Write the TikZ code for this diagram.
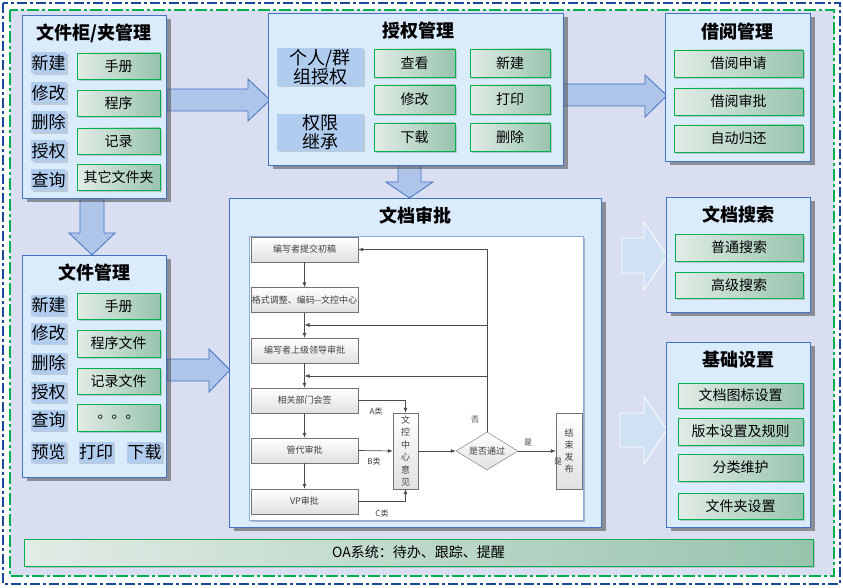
\documentclass[tikz,border=0pt]{standalone}
\usepackage{fontspec}
\setmainfont{Noto Sans CJK SC}
\usetikzlibrary{shapes.geometric,arrows.meta,shadows}
\definecolor{bgfill}{RGB}{217,222,240}
\definecolor{frameblue}{RGB}{28,72,156}
\definecolor{framegreen}{RGB}{0,176,80}
\definecolor{panelfill}{RGB}{218,235,252}
\definecolor{panelline}{RGB}{68,114,196}
\definecolor{tagfill}{RGB}{176,204,238}
\definecolor{btnleft}{RGB}{226,236,230}
\definecolor{btnright}{RGB}{152,196,174}
\definecolor{arrowfill}{RGB}{174,197,233}
\definecolor{softarrow}{RGB}{208,225,243}
\tikzset{
  panel/.style={draw=panelline, line width=0.8pt, fill=panelfill, inner sep=0pt,
    drop shadow={shadow xshift=5pt, shadow yshift=-4pt, opacity=0.55, fill=black!70}},
  ptitle/.style={font=\bfseries\fontsize{18}{20}\selectfont},
  tag/.style={fill=tagfill, inner sep=0pt, minimum width=35pt, minimum height=21pt,
    font=\fontsize{17}{19}\selectfont,
    drop shadow={shadow xshift=1.5pt, shadow yshift=-1.5pt, opacity=0.3}},
  widetag/.style={tag, minimum width=86pt, align=center, font=\fontsize{18}{19}\selectfont},
  btn/.style={draw=framegreen, line width=0.8pt, left color=btnleft, right color=btnright,
    inner sep=0pt, minimum height=26pt, font=\fontsize{14}{16}\selectfont,
    drop shadow={shadow xshift=2pt, shadow yshift=-2pt, opacity=0.35}},
  bigarrow/.style={draw=panelline, line width=0.8pt, fill=arrowfill},
  lightarrow/.style={draw=white, line width=0.8pt, fill=softarrow},
  flow/.style={draw=black!55, top color=white, bottom color=black!12, inner sep=0pt,
    minimum width=107pt, minimum height=25pt, text=black!75, font=\fontsize{9}{11}\selectfont},
  vflow/.style={flow, minimum width=25pt, minimum height=76pt, align=center,
    font=\fontsize{9}{12.5}\selectfont},
  fline/.style={draw=black!70, line width=0.7pt, -{Latex[length=5pt,width=4pt]}},
  flabel/.style={text=black!75, font=\fontsize{8}{9}\selectfont}
}
\begin{document}
\begin{tikzpicture}[x=1pt,y=-1pt]
\useasboundingbox (0,0) rectangle (843,588);
\fill[white] (0,0) rectangle (843,588);
\fill[bgfill] (10,10) rectangle (834,576);
\draw[frameblue, line width=2.6pt, dash pattern=on 10pt off 3pt on 3pt off 3pt] (3,3) rectangle (840,584);
\draw[framegreen, line width=2.2pt, dash pattern=on 12pt off 3pt on 3pt off 3pt] (10,10) rectangle (834,576);

\draw[bigarrow] (80,198) -- (104,198) -- (104,233) -- (115,233) -- (92,255) -- (69,233) -- (80,233) -- cycle;
\draw[bigarrow] (167,89) -- (248,89) -- (248,79) -- (270,100) -- (248,121) -- (248,111) -- (167,111) -- cycle;
\draw[bigarrow] (563,84) -- (645,84) -- (645,75) -- (667,95.5) -- (645,117) -- (645,106) -- (563,106) -- cycle;
\draw[bigarrow] (398,165) -- (421,165) -- (421,182) -- (433,182) -- (409.5,198) -- (386,182) -- (398,182) -- cycle;
\draw[bigarrow] (167,359) -- (209,359) -- (209,349) -- (230,370) -- (209,392) -- (209,381) -- (167,381) -- cycle;
\draw[lightarrow] (622,238) -- (644,238) -- (644,222) -- (667,256) -- (644,290) -- (644,273) -- (622,273) -- cycle;
\draw[lightarrow] (620,413) -- (644,413) -- (644,397) -- (667,430) -- (644,464) -- (644,447) -- (620,447) -- cycle;

\node[panel, minimum width=144pt, minimum height=183pt] (cabinet) at (94,106.5) {};
\node[ptitle] (cabinetTitle) at (94,33) {文件柜/夹管理};
\node[tag] (cabNew) at (48.5,63) {新建};
\node[tag] (cabEdit) at (48.5,93) {修改};
\node[tag] (cabDel) at (48.5,122) {删除};
\node[tag] (cabAuth) at (48.5,151) {授权};
\node[tag] (cabFind) at (48.5,180) {查询};
\node[btn, minimum width=83pt] (cabManual) at (118.5,66) {手册};
\node[btn, minimum width=83pt] (cabProc) at (118.5,103.5) {程序};
\node[btn, minimum width=83pt] (cabRec) at (118.5,141) {记录};
\node[btn, minimum width=83pt] (cabOther) at (118.5,177.5) {其它文件夹};

\node[panel, minimum width=295pt, minimum height=152pt] (grant) at (415.5,89) {};
\node[ptitle] (grantTitle) at (418,31) {授权管理};
\node[widetag, minimum height=38pt] (grantGroup) at (320,67) {个人/群\\组授权};
\node[widetag, minimum height=37pt] (grantInherit) at (320,132.5) {权限\\继承};
\node[btn, minimum width=81pt, minimum height=28pt] (grantView) at (414.5,63) {查看};
\node[btn, minimum width=81pt, minimum height=29pt] (grantEdit) at (414.5,99.5) {修改};
\node[btn, minimum width=81pt, minimum height=28pt] (grantLoad) at (414.5,137) {下载};
\node[btn, minimum width=80pt, minimum height=28pt] (grantNew) at (510,63) {新建};
\node[btn, minimum width=80pt, minimum height=29pt] (grantPrint) at (510,99.5) {打印};
\node[btn, minimum width=80pt, minimum height=28pt] (grantDel) at (510,137) {删除};

\node[panel, minimum width=145pt, minimum height=148pt] (borrow) at (737.5,87) {};
\node[ptitle] (borrowTitle) at (737.5,32) {借阅管理};
\node[btn, minimum width=129pt, minimum height=27pt] (borrowAsk) at (738.5,63.5) {借阅申请};
\node[btn, minimum width=129pt, minimum height=27pt] (borrowCheck) at (738.5,101.5) {借阅审批};
\node[btn, minimum width=129pt, minimum height=27pt] (borrowBack) at (738.5,138.5) {自动归还};

\node[panel, minimum width=144pt, minimum height=222pt] (files) at (94,366) {};
\node[ptitle] (filesTitle) at (94,273) {文件管理};
\node[tag] (fileNew) at (48.5,305) {新建};
\node[tag] (fileEdit) at (48.5,333) {修改};
\node[tag] (fileDel) at (48.5,363) {删除};
\node[tag] (fileAuth) at (48.5,392) {授权};
\node[tag] (fileFind) at (48.5,420) {查询};
\node[tag] (fileView) at (48.5,452) {预览};
\node[tag] (filePrint) at (96,452) {打印};
\node[tag] (fileLoad) at (144.5,452) {下载};
\node[btn, minimum width=83pt] (fileManual) at (118.5,306) {手册};
\node[btn, minimum width=83pt, minimum height=27pt] (fileProc) at (118.5,343.5) {程序文件};
\node[btn, minimum width=83pt] (fileRec) at (118.5,381) {记录文件};
\node[btn, minimum width=83pt, minimum height=27pt] (fileMore) at (118.5,417.5) {。。。};

\node[panel, minimum width=372pt, minimum height=329pt] (review) at (415,362.5) {};
\node[ptitle] (reviewTitle) at (415,216) {文档审批};
\node[draw=panelline!60, fill=white, inner sep=0pt, minimum width=334pt, minimum height=284pt,
  drop shadow={shadow xshift=2pt, shadow yshift=-2pt, opacity=0.5}] (sheet) at (416,378) {};
\node[flow] (draft) at (304.5,249.5) {编写者提交初稿};
\node[flow] (format) at (304.5,300) {格式调整、编码-{}-文控中心};
\node[flow] (leader) at (304.5,350.5) {编写者上级领导审批};
\node[flow] (dept) at (304.5,400.5) {相关部门会签};
\node[flow] (mgr) at (304.5,450.5) {管代审批};
\node[flow] (vp) at (304.5,501.5) {VP审批};
\node[vflow] (ctrl) at (405.5,451) {文\\控\\中\\心\\意\\见};
\node[draw=black!55, top color=white, bottom color=black!12, diamond, aspect=1.63, inner sep=0pt,
  minimum width=62pt, minimum height=38pt, text=black!75, font=\fontsize{9}{11}\selectfont] (pass) at (487,451) {是否通过};
\node[vflow, minimum width=26pt, font=\fontsize{9}{12}\selectfont] (publish) at (569,451) {结\\束\\发\\布};
\coordinate (back1) at (304.5,325);
\coordinate (back2) at (304.5,376);
\draw[fline] (draft) -- (format);
\draw[fline] (format) -- (leader);
\draw[fline] (leader) -- (dept);
\draw[fline] (dept) -- (mgr);
\draw[fline] (mgr) -- (vp);
\draw[fline] (pass.north) |- (draft.east);
\draw[fline] (pass.north |- back1) -- (back1);
\draw[fline] (pass.north |- back2) -- (back2);
\draw[fline] (dept.east) -| (ctrl.north);
\draw[fline] (mgr.east) -- (ctrl.west);
\draw[fline] (vp.east) -| (ctrl.south);
\draw[fline] (ctrl.east) -- (pass.west);
\draw[fline] (pass.east) -- (publish.west);
\node[flabel] (labA) at (376,411) {A类};
\node[flabel] (labB) at (374,461) {B类};
\node[flabel] (labC) at (382,513) {C类};
\node[flabel] (labNo) at (475,420) {否};
\node[flabel] (labYes) at (528,443) {是};
\node[flabel] (labYes2) at (558,462) {是};

\node[panel, minimum width=144pt, minimum height=115pt] (search) at (738,254.5) {};
\node[ptitle] (searchTitle) at (738,215) {文档搜索};
\node[btn, minimum width=128pt, minimum height=27pt] (searchPlain) at (739,247.5) {普通搜索};
\node[btn, minimum width=128pt] (searchMore) at (739,285) {高级搜索};

\node[panel, minimum width=144pt, minimum height=185pt] (setup) at (738,434.5) {};
\node[ptitle] (setupTitle) at (738,360) {基础设置};
\node[btn, minimum width=125pt, minimum height=25pt] (setIcon) at (740.5,395.5) {文档图标设置};
\node[btn, minimum width=125pt, minimum height=27pt] (setVer) at (740.5,431.5) {版本设置及规则};
\node[btn, minimum width=125pt, minimum height=27pt] (setKind) at (740.5,467.5) {分类维护};
\node[btn, minimum width=125pt] (setFolder) at (740.5,506) {文件夹设置};

\node[btn, minimum width=789pt, minimum height=27pt] (oa) at (418.5,552.5) {OA系统：待办、跟踪、提醒};
\end{tikzpicture}
\end{document}
